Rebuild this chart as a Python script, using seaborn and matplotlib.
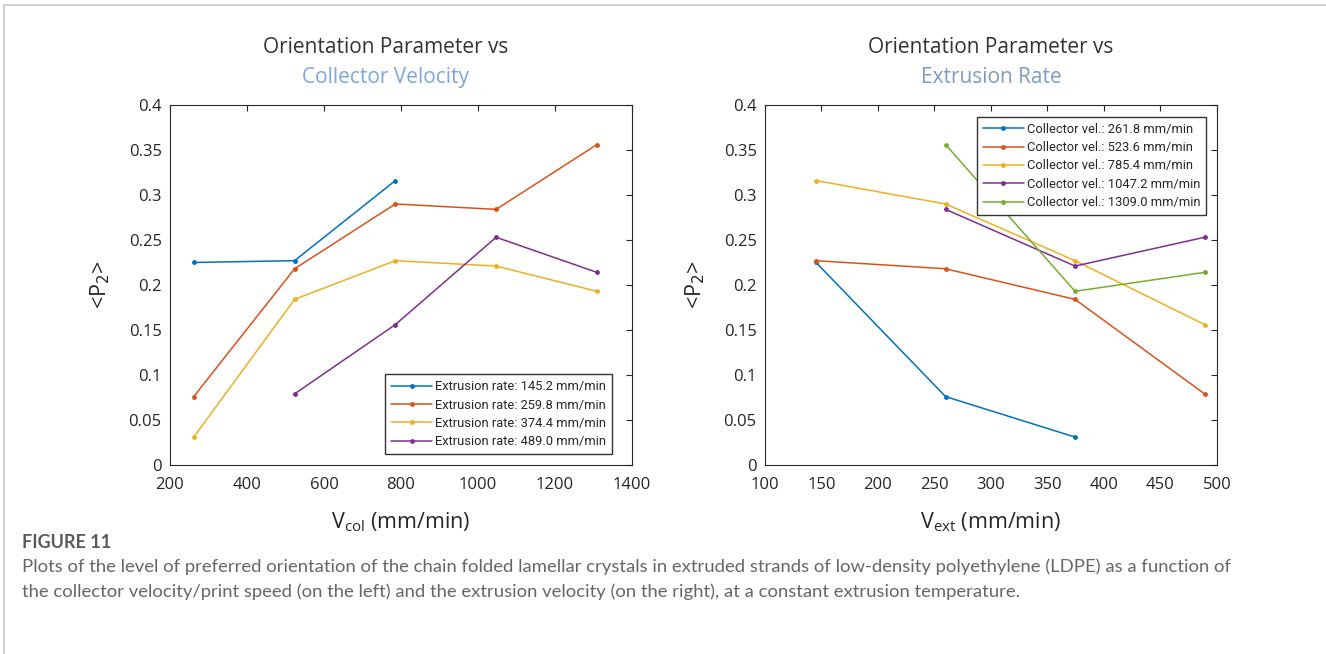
import numpy as np
import pandas as pd
import seaborn as sns
import matplotlib.pyplot as plt

sns.set_style('white')
plt.rcParams['font.family'] = ['Open Sans', 'DejaVu Sans']

# collector velocities (mm/min) and extrusion rates (mm/min)
col_vel = [261.8, 523.6, 785.4, 1047.2, 1309.0]
ext_rate = [145.2, 259.8, 374.4, 489.0]

# <P2> values, one list per extrusion rate, indexed by collector velocity (None = not measured)
p2_ext145 = [0.225, 0.227, 0.316, None, None]
p2_ext260 = [0.076, 0.218, 0.290, 0.284, 0.356]
p2_ext374 = [0.031, 0.184, 0.227, 0.221, 0.193]
p2_ext489 = [None, 0.079, 0.156, 0.253, 0.214]

matlab_colors = ['#0072BD', '#D95319', '#EDB120', '#7E2F8E', '#77AC30']

rows = []
for er, vals in zip(ext_rate, [p2_ext145, p2_ext260, p2_ext374, p2_ext489]):
    for cv, v in zip(col_vel, vals):
        if v is not None:
            rows.append({'col': cv, 'ext': er, 'p2': v})
df = pd.DataFrame(rows)

fig = plt.figure(figsize=(13.26, 6.54), dpi=100)
ax1 = fig.add_axes([0.1282, 0.2890, 0.3484, 0.5505])
ax2 = fig.add_axes([0.5769, 0.2890, 0.3409, 0.5505])

legfont = {'family': ['Liberation Sans Narrow', 'Roboto', 'DejaVu Sans'], 'size': 9.3}

# left: vs collector velocity, one line per extrusion rate
sns.lineplot(data=df, x='col', y='p2', hue='ext', hue_order=ext_rate,
             palette=matlab_colors[:4], marker='o', markersize=3.5,
             markeredgewidth=0, linewidth=1.1, ax=ax1)
h1, _ = ax1.get_legend_handles_labels()
ax1.legend(h1, ['Extrusion rate: %.1f mm/min' % e for e in ext_rate],
           loc='lower right', bbox_to_anchor=(0.97, 0.012), prop=legfont,
           fancybox=False, edgecolor='#333333', framealpha=1,
           handlelength=3.2, handletextpad=0.2, borderpad=0.45, labelspacing=0.42)
ax1.set_xlim(200, 1400)
ax1.set_xticks(np.arange(200, 1401, 200))
ax1.set_xlabel('V$_{\\mathregular{col}}$ (mm/min)', fontsize=15.5, color='#262626', labelpad=12)

# right: vs extrusion rate, one line per collector velocity
sns.lineplot(data=df, x='ext', y='p2', hue='col', hue_order=col_vel,
             palette=matlab_colors, marker='o', markersize=3.5,
             markeredgewidth=0, linewidth=1.1, ax=ax2)
h2, _ = ax2.get_legend_handles_labels()
ax2.legend(h2, ['Collector vel.: %.1f mm/min' % c for c in col_vel],
           loc='upper right', bbox_to_anchor=(0.99, 0.985), prop=legfont,
           fancybox=False, edgecolor='#333333', framealpha=1,
           handlelength=3.2, handletextpad=0.2, borderpad=0.45, labelspacing=0.42)
ax2.set_xlim(100, 500)
ax2.set_xticks(np.arange(100, 501, 50))
ax2.set_xlabel('V$_{\\mathregular{ext}}$ (mm/min)', fontsize=15.5, color='#262626', labelpad=12)

for ax in (ax1, ax2):
    ax.set_ylim(0, 0.4)
    ax.set_yticks(np.arange(0, 0.41, 0.05))
    ax.set_yticklabels(['0', '0.05', '0.1', '0.15', '0.2', '0.25', '0.3', '0.35', '0.4'])
    ax.tick_params(direction='in', length=4, width=0.8, top=True, right=True,
                   labelsize=12, colors='#262626')
    ax.tick_params(axis='x', pad=9)
    ax.tick_params(axis='y', pad=6)
    for s in ax.spines.values():
        s.set_color('#262626')
        s.set_linewidth(0.8)
    ax.set_ylabel('<P$_2$>', fontsize=15.5, color='#262626', labelpad=12)

# titles (two lines, second line coloured)
fig.text(0.2911, 0.927, 'Orientation Parameter vs', ha='center', va='center',
         fontsize=15, color='#333333')
fig.text(0.2911, 0.881, 'Collector Velocity', ha='center', va='center',
         fontsize=15, color='#7EA6E0')
fig.text(0.7474, 0.927, 'Orientation Parameter vs', ha='center', va='center',
         fontsize=15, color='#333333')
fig.text(0.7474, 0.881, 'Extrusion Rate', ha='center', va='center',
         fontsize=15, color='#7F9CC2')

# caption
fig.text(0.0166, 0.170, 'FIGURE 11', fontsize=13, fontweight='bold',
         color='#5a5a5a', va='center', family=['Lato', 'DejaVu Sans'])
fig.text(0.0166, 0.133,
         'Plots of the level of preferred orientation of the chain folded lamellar crystals in extruded strands of low-density polyethylene (LDPE) as a function of',
         fontsize=13.3, color='#666666', va='center', family=['Lato', 'DejaVu Sans'])
fig.text(0.0166, 0.095,
         'the collector velocity/print speed (on the left) and the extrusion velocity (on the right), at a constant extrusion temperature.',
         fontsize=13.3, color='#666666', va='center', family=['Lato', 'DejaVu Sans'])

# light frame on top and left edge
fig.add_artist(plt.Line2D([0.003, 0.003], [0.0, 0.992], color='#c8c8c8', lw=1.2))
fig.add_artist(plt.Line2D([0.003, 1.0], [0.992, 0.992], color='#c8c8c8', lw=1.2))

fig.savefig('out.png', dpi=100)
